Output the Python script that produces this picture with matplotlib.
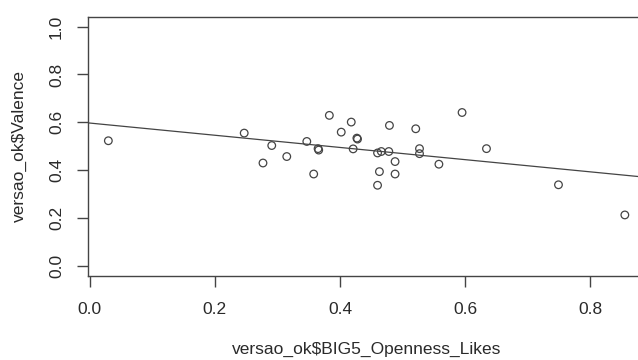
"""Scatter of Valence vs BIG5 openness (likes) with a fitted line, R base-plot look."""

import matplotlib
matplotlib.use("Agg")
import matplotlib.pyplot as plt

openness = [0.030, 0.247, 0.291, 0.277, 0.315, 0.347, 0.365, 0.366, 0.358,
            0.383, 0.418, 0.402, 0.427, 0.428, 0.421, 0.479, 0.460, 0.466,
            0.478, 0.488, 0.463, 0.488, 0.460, 0.521, 0.595, 0.527, 0.527,
            0.634, 0.558, 0.749, 0.855]
valence = [0.523, 0.555, 0.503, 0.430, 0.457, 0.520, 0.490, 0.484, 0.384,
           0.629, 0.601, 0.559, 0.534, 0.530, 0.489, 0.587, 0.472, 0.478,
           0.478, 0.436, 0.394, 0.384, 0.337, 0.573, 0.641, 0.490, 0.469,
           0.490, 0.425, 0.339, 0.213]
fit_intercept, fit_slope = 0.597, -0.255

x_ticks = [0.0, 0.2, 0.4, 0.6, 0.8]
y_ticks = [0.0, 0.2, 0.4, 0.6, 0.8, 1.0]

INK, LINE = "#2a2a2a", "#444444"
plt.rcParams["font.family"] = ["Liberation Sans", "DejaVu Sans"]

fig = plt.figure(figsize=(6.38, 3.6), dpi=100, facecolor="white")
# axes runs past the right edge, as in the cropped original
ax = fig.add_axes([87.5 / 638, 84.5 / 360, 558 / 638, 258.5 / 360])
ax.set_xlim(-0.0033, 0.888)
ax.set_ylim(-0.04, 1.04)

ax.scatter(openness, valence, s=30, facecolors="none", edgecolors=LINE,
           linewidths=0.9, zorder=3)
ax.axline((0, fit_intercept), slope=fit_slope, color=LINE, linewidth=0.9)

for side in ax.spines.values():
    side.set_color(LINE)
    side.set_linewidth(1.0)
ax.set_xticks(x_ticks)
ax.set_xticklabels([f"{v:.1f}" for v in x_ticks])
ax.set_yticks(y_ticks)
ax.set_yticklabels([f"{v:.1f}" for v in y_ticks], rotation=90, va="center")
ax.tick_params(direction="out", length=8, width=1.0, color=LINE,
               labelcolor=INK, labelsize=12.5)
ax.tick_params(axis="x", pad=11)
ax.tick_params(axis="y", pad=9)

ax.set_xlabel("versao_ok$BIG5_Openness_Likes", color=INK, fontsize=12.5,
              labelpad=18)
ax.set_ylabel("versao_ok$Valence", color=INK, fontsize=12.5, labelpad=16)

fig.savefig("out.png", dpi=100, facecolor="white")
